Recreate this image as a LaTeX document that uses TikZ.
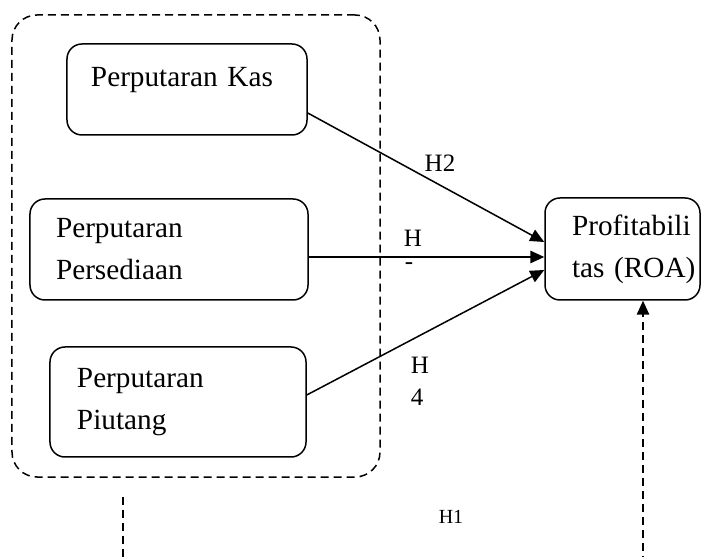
\documentclass[tikz,border=0pt]{standalone}
\usepackage{fontspec}
\setmainfont{Liberation Serif}
\usetikzlibrary{positioning,calc,arrows.meta}

\begin{document}
\begin{tikzpicture}[x=0.4pt, y=-0.4pt, >={Triangle[length=5.6pt,width=5pt]},
  every box/.style={draw, line width=0.6pt, rounded corners=6pt, align=left,
    font=\fontsize{11.7pt}{16.8pt}\selectfont},
  group/.style={draw, dash pattern=on 3.2pt off 2pt, line width=0.6pt, rounded corners=10pt},
  link/.style={->, line width=0.6pt},
  dlink/.style={dash pattern=on 3.2pt off 2pt, line width=0.6pt},
  hyp/.style={font=\fontsize{10pt}{12pt}\selectfont, inner sep=0pt}]

\useasboundingbox (0,0) rectangle (712,557);

% independent variables
\node [group, minimum width=147.2pt, minimum height=184.8pt] (grp) at (196,246) {};

\node [every box, minimum height=36.4pt, text width=76.8pt, inner xsep=9.6pt, text depth=9.7pt] (kas) at (187,89.5) {Perputaran Kas};
\node [every box, minimum height=40.4pt, text width=90.4pt, inner xsep=10.4pt] (persediaan) at (169,249.5) {Perputaran\\Persediaan};
\node [every box, minimum height=44pt, text width=80.8pt, inner xsep=10.8pt] (piutang) at (178,402) {Perputaran\\Piutang};

% dependent variable
\node [every box, minimum height=40.8pt, text width=40.4pt, inner xsep=10.8pt] (roa) at (622.5,249) {\mbox{Profitabili}\\\mbox{tas (ROA)}};

\draw [link] ($(kas.east)+(0,23.5)$) -- ($(roa.west)+(0,-7)$);
\draw [link] ($(persediaan.east)+(0,7.5)$) -- ($(roa.west)+(0,8)$);
\draw [link] ($(piutang.east)+(0,-7)$) -- ($(roa.west)+(0,21)$);

\node [hyp] (h2) at (440,163) {H2};
\node [hyp] (h3a) at (413,238) {H};
\node [hyp] (h3b) at (409,266) {-};
\node [hyp] (h4a) at (420,365) {H};
\node [hyp] (h4b) at (417,397) {4};
\node [hyp, font=\fontsize{8pt}{10pt}\selectfont] (h1) at (451,517) {H1};

% simultaneous path
\coordinate (grpfoot) at (123,497);
\coordinate (leftend) at (123,590);
\coordinate (rightend) at (643,590);
\draw [dlink] (grpfoot) -- (leftend);
\draw [dlink, ->] (rightend) -- (rightend |- roa.south);

\end{tikzpicture}
\end{document}
